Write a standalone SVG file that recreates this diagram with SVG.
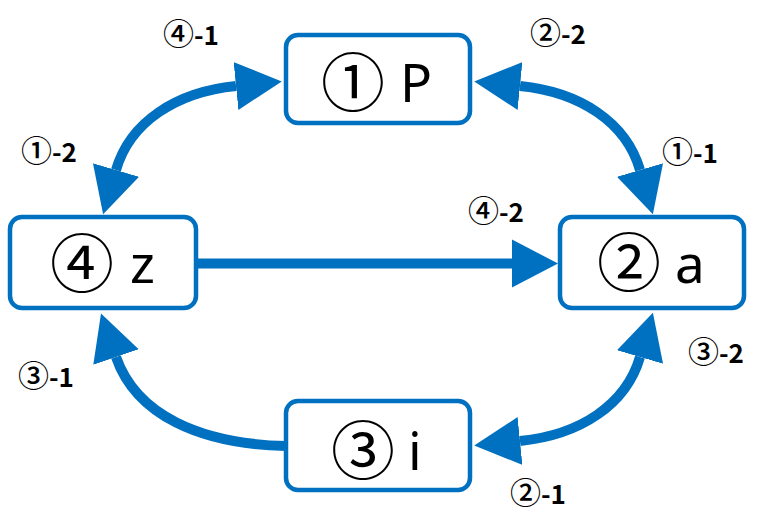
<svg xmlns="http://www.w3.org/2000/svg" width="768" height="532" viewBox="0 0 768 532">
<style>
.box{fill:#fff;stroke:#0070C0;stroke-width:4.5}
.num{font-family:"Noto Sans CJK JP","Noto Sans",sans-serif;font-size:64px;fill:#000;text-anchor:middle}
.let{font-family:"Noto Sans","Noto Sans CJK JP",sans-serif;font-size:53px;fill:#000}
.lbl{font-family:"Noto Sans CJK JP","Noto Sans",sans-serif;font-size:26px;font-weight:bold;fill:#000}
.c{font-size:31px;font-weight:500}
.con{fill:none;stroke:#0070C0;stroke-width:10}
</style>
<defs>
<marker id="ah" markerUnits="userSpaceOnUse" markerWidth="50" markerHeight="50" refX="0" refY="25" orient="auto-start-reverse" viewBox="0 0 50 50">
<path d="M0,1 L46,25 L0,49 Z" fill="#0070C0"/>
</marker>
</defs>
<g id="connectors">
<path class="con" d="M116,170 C130,122 176,92 236,86" marker-start="url(#ah)" marker-end="url(#ah)"/>
<path class="con" d="M640,170 C626,122 580,92 520,86" marker-start="url(#ah)" marker-end="url(#ah)"/>
<path class="con" d="M286,446 C200,444 136,415 116,357" marker-end="url(#ah)"/>
<path class="con" d="M640,357 C626,405 580,435 520,441" marker-start="url(#ah)" marker-end="url(#ah)"/>
<path class="con" d="M196,263.5 L512,263.5" marker-end="url(#ah)"/>
</g>
<g id="node1">
<rect class="box" x="286" y="35" width="184" height="88" rx="12"/>
<text class="num" x="353" y="106">①</text>
<text class="let" x="400" y="102">P</text>
</g>
<g id="node4">
<rect class="box" x="10" y="217" width="186" height="91" rx="12"/>
<text class="num" x="82" y="287">④</text>
<text class="let" x="130" y="283">z</text>
</g>
<g id="node2">
<rect class="box" x="560" y="217" width="184" height="91" rx="12"/>
<text class="num" x="629" y="286">②</text>
<text class="let" x="675" y="283">a</text>
</g>
<g id="node3">
<rect class="box" x="286" y="401" width="184" height="89" rx="12"/>
<text class="num" x="363" y="474">③</text>
<text class="let" x="408" y="470">i</text>
</g>
<g id="labels">
<text class="lbl" x="163" y="45"><tspan class="c">④</tspan>-1</text>
<text class="lbl" x="530" y="44"><tspan class="c">②</tspan>-2</text>
<text class="lbl" x="21" y="162"><tspan class="c">①</tspan>-2</text>
<text class="lbl" x="662" y="163"><tspan class="c">①</tspan>-1</text>
<text class="lbl" x="468" y="222"><tspan class="c">④</tspan>-2</text>
<text class="lbl" x="18" y="387"><tspan class="c">③</tspan>-1</text>
<text class="lbl" x="688" y="363"><tspan class="c">③</tspan>-2</text>
<text class="lbl" x="510" y="504"><tspan class="c">②</tspan>-1</text>
</g>
</svg>
